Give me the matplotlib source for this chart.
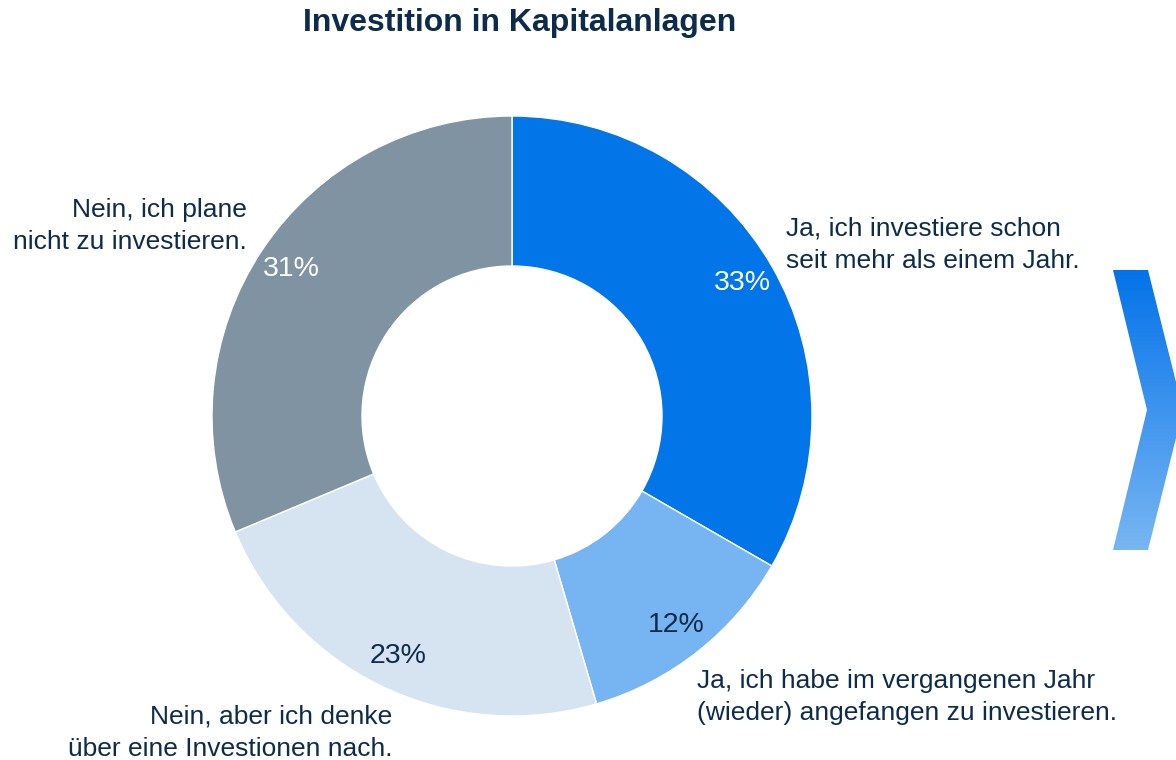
import numpy as np
import matplotlib.pyplot as plt
from matplotlib.patches import Polygon

plt.rcParams['font.family'] = ['Liberation Sans', 'DejaVu Sans']

# Data
labels = ["Ja, ich investiere schon\nseit mehr als einem Jahr.",
          "Ja, ich habe im vergangenen Jahr\n(wieder) angefangen zu investieren.",
          "Nein, aber ich denke\nüber eine Investionen nach.",
          "Nein, ich plane\nnicht zu investieren."]
values = [33, 12, 23, 31]
colors = ["#0275E9", "#76B4F2", "#D6E3F1", "#7F93A3"]
pct_colors = ["white", "#0D2C4B", "#0D2C4B", "white"]

navy = "#0D2C4B"

fig = plt.figure(figsize=(11.76, 7.6), dpi=100)

# donut, centred at (512, 416) px, radius 300 px
ax = fig.add_axes([(512 - 300) / 1176, (344 - 300) / 760, 600 / 1176, 600 / 760])
wedges, _ = ax.pie(values, colors=colors, startangle=90, counterclock=False,
                   radius=1, wedgeprops=dict(width=0.5, edgecolor="white", linewidth=1))
ax.set_xlim(-1, 1)
ax.set_ylim(-1, 1)
ax.set_aspect("equal")

# percentage labels
total = sum(values)
ang = 90.0
for v, c in zip(values, pct_colors):
    span = v / total * 360
    mid = np.deg2rad(ang - span / 2)
    ax.text(0.885 * np.cos(mid), 0.885 * np.sin(mid), f"{v}%", ha="center", va="center",
            fontsize=20.5, color=c)
    ang -= span

# category labels
lab_kw = dict(va="center", fontsize=19, color=navy, linespacing=1.45)
ax.text(0.913, 0.57, labels[0], ha="left", **lab_kw)
ax.text(0.617, -0.937, labels[1], ha="left", **lab_kw)
ax.text(-0.40, -1.055, labels[2], ha="right", **lab_kw)
ax.text(-0.883, 0.633, labels[3], ha="right", **lab_kw)

fig.text(520 / 1176, 1 - 23 / 760, "Investition in Kapitalanlagen", ha="center", va="center",
         fontsize=23, fontweight="bold", color=navy)

# chevron decoration on the right (pixel coords)
deco = fig.add_axes([0, 0, 1, 1], zorder=-1)
deco.set_xlim(0, 1176)
deco.set_ylim(760, 0)
deco.axis("off")
pts = [(1113, 270), (1148, 270), (1183, 410), (1148, 550), (1113, 550), (1147, 410)]
poly = Polygon(pts, closed=True, facecolor="none", edgecolor="none")
deco.add_patch(poly)
top = np.array([0x03, 0x73, 0xE9]) / 255
bot = np.array([0x78, 0xB6, 0xF3]) / 255
t = np.linspace(0, 1, 256)[:, None]
grad = (top * (1 - t) + bot * t)[:, None, :]
im = deco.imshow(grad, extent=[1113, 1183, 550, 270], aspect="auto", interpolation="bilinear")
im.set_clip_path(poly)
deco.set_xlim(0, 1176)
deco.set_ylim(760, 0)

fig.savefig("out.png", dpi=100)
